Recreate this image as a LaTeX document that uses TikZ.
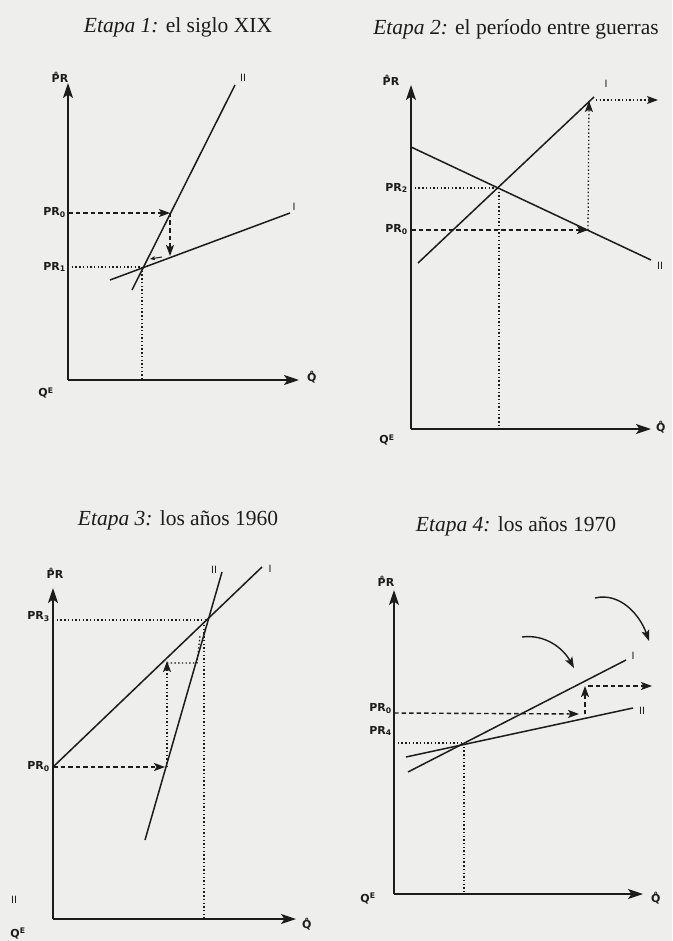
\documentclass[tikz,border=0pt]{standalone}
\usepackage{fontspec}
\setmainfont{Liberation Serif}
\newfontfamily\labfont{DejaVu Sans}[BoldFont={DejaVu Sans Bold}]
\usetikzlibrary{arrows.meta}
\definecolor{ink}{RGB}{28,28,28}
\definecolor{paper}{RGB}{238,238,236}
\begin{document}
\begin{tikzpicture}[x=1pt,y=-1pt,
  axis/.style={ink,line width=1.8pt,-{Stealth[length=15pt,width=10pt,inset=3.5pt]}},
  curve/.style={ink,line width=1.5pt},
  dsh/.style={ink,line width=1.4pt,dash pattern=on 4.5pt off 3pt},
  dts/.style={ink,line width=1.3pt,dash pattern=on 1.4pt off 2.3pt},
  tip/.style={-{Stealth[length=11pt,width=8pt,inset=2.5pt]}},
  smalltip/.style={-{Stealth[length=5pt,width=4pt,inset=1pt]}},
  lbl/.style={ink,font=\labfont\bfseries\fontsize{11}{12}\selectfont,inner sep=0pt},
  cl/.style={ink,font=\labfont\fontsize{10}{11}\selectfont,inner sep=0pt},
  ttl/.style={ink,font=\fontsize{21.5}{24}\selectfont,inner sep=0pt}
]
\useasboundingbox (0,0) rectangle (672,941);
\fill[paper] (0,0) rectangle (672,941);

% ===== Panel 1 =====
\node[ttl] (t1) at (178,27) {\textit{Etapa 1:} el siglo XIX};
\coordinate (o1) at (68,380);
\coordinate (y1) at (68,83);
\coordinate (x1) at (299,380);
\draw[axis] (o1) -- (y1);
\draw[axis] (o1) -- (x1);
\node[lbl] (pr1) at (60,77) {\r{P}R};
\node[lbl,anchor=west] (q1) at (307,377) {\r{Q}};
\node[lbl] (qe1) at (46,393) {Q\textsuperscript{E}};
\coordinate (a1) at (132,290); \coordinate (b1) at (235,85);
\coordinate (c1) at (110,280); \coordinate (d1) at (290,213);
\draw[curve] (a1) -- (b1);
\draw[curve] (c1) -- (d1);
\node[cl] (l1ii) at (243,78) {II};
\node[cl] (l1i) at (294,207) {I};
\node[lbl,anchor=east] (p10) at (66,213) {PR\textsubscript{0}};
\node[lbl,anchor=east] (p11) at (66,267) {PR\textsubscript{1}};
\coordinate (s1a) at (68,213);
\coordinate (s1b) at (170,213);
\coordinate (s1c) at (170,256);
\coordinate (e1) at (142,267);
\coordinate (e1x) at (142,380);
\coordinate (e1y) at (68,267);
\draw[dsh,tip] (s1a) -- (s1b);
\draw[dsh,tip] (s1b) -- (s1c);
\coordinate (m1a) at (162,257);
\coordinate (m1b) at (150,259);
\draw[ink,line width=1pt,smalltip] (m1a) -- (m1b);
\draw[dts] (e1y) -- (e1);
\draw[dts] (e1) -- (e1x);

% ===== Panel 2 =====
\node[ttl] (t2) at (516,29) {\textit{Etapa 2:} el período entre guerras};
\coordinate (o2) at (411,429);
\coordinate (y2) at (411,85);
\coordinate (x2) at (651,429);
\draw[axis] (o2) -- (y2);
\draw[axis] (o2) -- (x2);
\node[lbl] (pr2) at (391,80) {\r{P}R};
\node[lbl,anchor=west] (q2) at (656,427) {\r{Q}};
\node[lbl] (qe2) at (387,440) {Q\textsuperscript{E}};
\coordinate (a2) at (411,147); \coordinate (b2) at (651,260);
\coordinate (c2) at (418,263); \coordinate (d2) at (594,97);
\draw[curve] (a2) -- (b2);
\draw[curve] (c2) -- (d2);
\node[cl] (l2ii) at (660,266) {II};
\node[cl] (l2i) at (606,84) {I};
\node[lbl,anchor=east] (p22) at (408,188) {PR\textsubscript{2}};
\node[lbl,anchor=east] (p20) at (408,230) {PR\textsubscript{0}};
\coordinate (e2) at (499,188);
\coordinate (e2y) at (411,188);
\coordinate (e2x) at (499,429);
\draw[dts] (e2y) -- (e2);
\draw[dts] (e2) -- (e2x);
\coordinate (s2a) at (411,230);
\coordinate (s2b) at (588,230);
\coordinate (s2c) at (589,101);
\coordinate (s2d) at (596,100);
\coordinate (s2e) at (658,100);
\draw[dsh,tip] (s2a) -- (s2b);
\draw[dts,tip] (s2b) -- (s2c);
\draw[dts,tip] (s2d) -- (s2e);

% ===== Panel 3 =====
\node[ttl] (t3) at (178,520) {\textit{Etapa 3:} los años 1960};
\coordinate (o3) at (53,919);
\coordinate (y3) at (53,588);
\coordinate (x3) at (296,919);
\draw[axis] (o3) -- (y3);
\draw[axis] (o3) -- (x3);
\node[lbl] (pr3) at (55,573) {\r{P}R};
\node[lbl,anchor=west] (q3) at (302,924) {\r{Q}};
\node[lbl] (qe3) at (18,933) {Q\textsuperscript{E}};
\node[cl] (stray3) at (14,900) {II};
\coordinate (a3) at (145,840); \coordinate (b3) at (222,572);
\coordinate (c3) at (53,767); \coordinate (d3) at (262,567);
\draw[curve] (a3) -- (b3);
\draw[curve] (c3) -- (d3);
\node[cl] (l3ii) at (214,570) {II};
\node[cl] (l3i) at (270,569) {I};
\node[lbl,anchor=east] (p33) at (50,617) {PR\textsubscript{3}};
\node[lbl,anchor=east] (p30) at (50,767) {PR\textsubscript{0}};
\coordinate (e3) at (207,620);
\coordinate (e3y) at (53,620);
\coordinate (e3x) at (204,919);
\coordinate (e3t) at (204,625);
\draw[dts] (e3y) -- (e3);
\draw[dts] (e3t) -- (e3x);
\coordinate (s3a) at (53,767);
\coordinate (s3b) at (165,767);
\coordinate (s3c) at (167,767);
\coordinate (s3d) at (167,661);
\coordinate (s3e) at (167,663);
\coordinate (s3f) at (197,663);
\coordinate (s3g) at (200,636);
\draw[dsh,tip] (s3a) -- (s3b);
\draw[dts,tip] (s3c) -- (s3d);
\draw[dts] (s3e) -- (s3f) -- (s3g);

% ===== Panel 4 =====
\node[ttl] (t4) at (516,526) {\textit{Etapa 4:} los años 1970};
\coordinate (o4) at (394,894);
\coordinate (y4) at (394,590);
\coordinate (x4) at (643,894);
\draw[axis] (o4) -- (y4);
\draw[axis] (o4) -- (x4);
\node[lbl] (pr4) at (386,581) {\r{P}R};
\node[lbl,anchor=west] (q4) at (651,898) {\r{Q}};
\node[lbl] (qe4) at (368,898) {Q\textsuperscript{E}};
\coordinate (a4) at (406,757); \coordinate (b4) at (633,708);
\coordinate (c4) at (408,772); \coordinate (d4) at (626,660);
\draw[curve] (a4) -- (b4);
\draw[curve] (c4) -- (d4);
\node[cl] (l4ii) at (642,711) {II};
\node[cl] (l4i) at (633,656) {I};
\node[lbl,anchor=east] (p40) at (392,709) {PR\textsubscript{0}};
\node[lbl,anchor=east] (p44) at (392,731) {PR\textsubscript{4}};
\coordinate (e4) at (464,743);
\coordinate (e4y) at (394,743);
\coordinate (e4x) at (464,894);
\draw[dts] (e4y) -- (e4);
\draw[dts] (e4) -- (e4x);
\coordinate (s4a) at (394,713);
\coordinate (s4b) at (579,714);
\coordinate (s4c) at (585,714);
\coordinate (s4d) at (585,686);
\coordinate (s4e) at (588,686);
\coordinate (s4f) at (652,686);
\draw[dsh,tip] (s4a) -- (s4b);
\draw[dsh,tip] (s4c) -- (s4d);
\draw[dsh,tip] (s4e) -- (s4f);
\coordinate (k1a) at (522,637); \coordinate (k1b) at (574,668);
\coordinate (k2a) at (595,598); \coordinate (k2b) at (649,641);
\draw[ink,line width=1.4pt,tip] (k1a) .. controls (545,634) and (563,648) .. (k1b);
\draw[ink,line width=1.4pt,tip] (k2a) .. controls (620,592) and (640,615) .. (k2b);
\end{tikzpicture}
\end{document}
